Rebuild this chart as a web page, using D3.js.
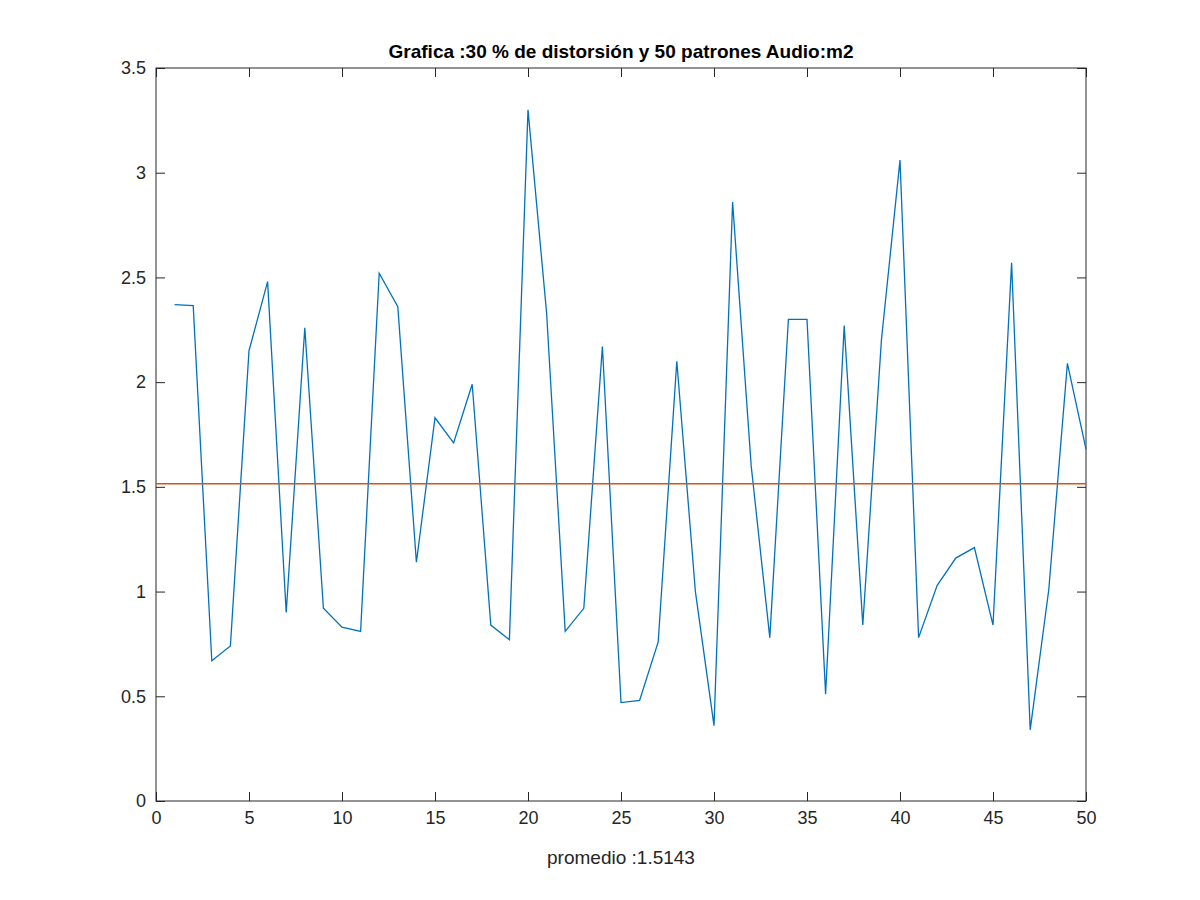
<!DOCTYPE html>
<html><head><meta charset="utf-8">
<script src="https://cdn.jsdelivr.net/npm/d3@7"></script>
<style>body{margin:0;background:#fff}text{font-family:"Liberation Sans",Arial,sans-serif}</style>
</head><body><svg id="c" width="1200" height="900"></svg>
<script>
const xs = d3.range(1,51);
const values = [2.37,2.365,0.67,0.74,2.15,2.48,0.90,2.26,0.92,0.83,0.81,2.52,2.36,1.14,1.83,1.71,1.99,0.84,0.77,3.30,2.33,0.81,0.92,2.17,0.47,0.48,0.76,2.10,1.00,0.36,2.86,1.60,0.78,2.30,2.30,0.51,2.27,0.84,2.20,3.06,0.78,1.03,1.16,1.21,0.84,2.57,0.34,1.01,2.09,1.68];
const mean = 1.5143;
const xTicks = [0,5,10,15,20,25,30,35,40,45,50];
const yTicks = [0,0.5,1,1.5,2,2.5,3,3.5];
const title = "Grafica :30 % de distorsión y 50 patrones Audio:m2";
const xlabel = "promedio :1.5143";

const L=156,R=1086,T=68,B=801;
const svg=d3.select("#c");
const x=d3.scaleLinear().domain([0,50]).range([L,R]);
const y=d3.scaleLinear().domain([0,3.5]).range([B,T]);
const ax=(sel)=>{sel.selectAll(".domain").remove();sel.selectAll("line").attr("stroke","#262626");sel.selectAll("text").attr("fill","#262626").attr("font-size",18);};
svg.append("g").attr("transform",`translate(0,${B})`).call(d3.axisBottom(x).tickValues(xTicks).tickSize(-9).tickPadding(10).tickFormat(d3.format("d"))).call(ax);
svg.append("g").attr("transform",`translate(0,${T})`).call(d3.axisTop(x).tickValues(xTicks).tickSize(-9).tickFormat("")).call(ax);
svg.append("g").attr("transform",`translate(${L},0)`).call(d3.axisLeft(y).tickValues(yTicks).tickSize(-9).tickPadding(10).tickFormat(d=>String(d))).call(ax);
svg.append("g").attr("transform",`translate(${R},0)`).call(d3.axisRight(y).tickValues(yTicks).tickSize(-9).tickFormat("")).call(ax);
svg.append("rect").attr("x",L).attr("y",T).attr("width",R-L).attr("height",B-T).attr("fill","none").attr("stroke","#262626");
svg.append("path").datum(xs.map((d,i)=>[d,values[i]])).attr("fill","none").attr("stroke","#0072BD").attr("stroke-width",1.3)
 .attr("d",d3.line().x(d=>x(d[0])).y(d=>y(d[1])));
svg.append("line").attr("x1",x(0)).attr("x2",x(50)).attr("y1",y(mean)).attr("y2",y(mean)).attr("stroke","#D95319").attr("stroke-width",1.5);
svg.append("text").attr("x",(L+R)/2).attr("y",58).attr("text-anchor","middle").attr("font-size",19).attr("font-weight","bold").attr("fill","#000").text(title);
svg.append("text").attr("x",(L+R)/2).attr("y",864).attr("text-anchor","middle").attr("font-size",19).attr("fill","#262626").text(xlabel);
</script></body></html>
